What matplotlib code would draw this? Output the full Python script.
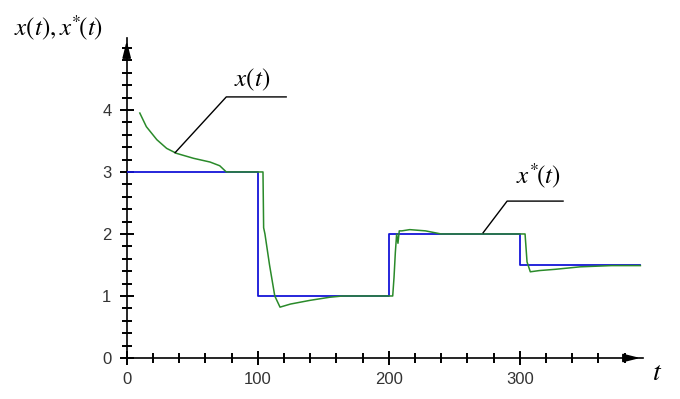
import matplotlib
matplotlib.use("Agg")
import matplotlib.pyplot as plt
from matplotlib.ticker import MultipleLocator

plt.rcParams['mathtext.fontset'] = 'stix'

# reference (blue) step signal x*(t)
blue_t = [0, 100, 100, 200, 200, 300, 300, 392]
blue_y = [3, 3, 1, 1, 2, 2, 1.5, 1.5]

# response (green) x(t)
green_t = [10, 15, 23, 30.5, 38, 51, 63.6, 71, 76, 104, 104.5, 105.5, 109, 113, 117,
           125, 140, 155, 165, 203, 204, 205, 206, 207, 208, 210, 216, 228, 240,
           304, 305.5, 308, 315, 327, 346, 370, 392]
green_y = [3.95, 3.73, 3.52, 3.38, 3.30, 3.22, 3.16, 3.10, 3.0, 3.0, 2.1, 2.0, 1.5, 1.0, 0.82,
           0.87, 0.93, 0.98, 1.0, 1.0, 1.3, 1.7, 2.0, 1.85, 2.05, 2.05, 2.07, 2.05, 2.0,
           2.0, 1.55, 1.39, 1.41, 1.43, 1.47, 1.49, 1.49]

x_major = [0, 100, 200, 300]
y_major = [0, 1, 2, 3, 4]

fig = plt.figure(figsize=(6.8, 3.99), dpi=100)
ax = fig.add_axes([126.7/680, 41/399, 516.3/680, 320/399])
ax.set_xlim(0, 394)
ax.set_ylim(0, 5.16)

ax.plot(blue_t, blue_y, color='#1515d8', lw=1.3, zorder=3)
ax.plot(green_t, green_y, color='#2a8a2a', lw=1.1, zorder=4)

for s in ['top', 'right']:
    ax.spines[s].set_visible(False)
for s in ['left', 'bottom']:
    ax.spines[s].set_linewidth(1.2)
    ax.spines[s].set_color('black')

ax.set_xticks(x_major)
ax.set_yticks(y_major)
ax.xaxis.set_minor_locator(MultipleLocator(20))
ax.yaxis.set_minor_locator(MultipleLocator(0.2))
ax.tick_params(which='major', direction='inout', length=10, width=1.4, color='black',
               labelsize=12, labelcolor='#333333')
ax.tick_params(which='minor', direction='inout', length=7, width=1.4, color='black')
ax.tick_params(axis='x', which='major', pad=5)
ax.tick_params(axis='y', which='major', pad=6)
for lab in ax.get_xticklabels() + ax.get_yticklabels():
    lab.set_fontfamily('Liberation Sans')

# axis arrows
ax.annotate('', xy=(394, 0), xytext=(378, 0),
            arrowprops=dict(arrowstyle='-|>,head_length=1.0,head_width=0.25',
                            color='black', lw=1.2), annotation_clip=False)
ax.annotate('', xy=(0, 5.16), xytext=(0, 4.85),
            arrowprops=dict(arrowstyle='-|>,head_length=1.0,head_width=0.25',
                            color='black', lw=1.2), annotation_clip=False)

# leader lines
ax.plot([121.7, 76, 36.9], [4.21, 4.21, 3.31], color='black', lw=1.0, zorder=5)
ax.plot([333, 290.3, 272], [2.53, 2.53, 2.02], color='black', lw=1.0, zorder=5)

ax.text(96, 4.48, r'$x(t)$', fontsize=18, ha='center', va='center')
ax.text(314, 2.92, r'$x^{*}\!(t)$', fontsize=18, ha='center', va='center')

fig.text(59/680, 1 - 28/399, r'$x(t), x^{*}\!(t)$', fontsize=18, ha='center', va='center')
fig.text(657/680, 1 - 372/399, r'$t$', fontsize=20, ha='center', va='center')

fig.savefig('out.png', dpi=100)
